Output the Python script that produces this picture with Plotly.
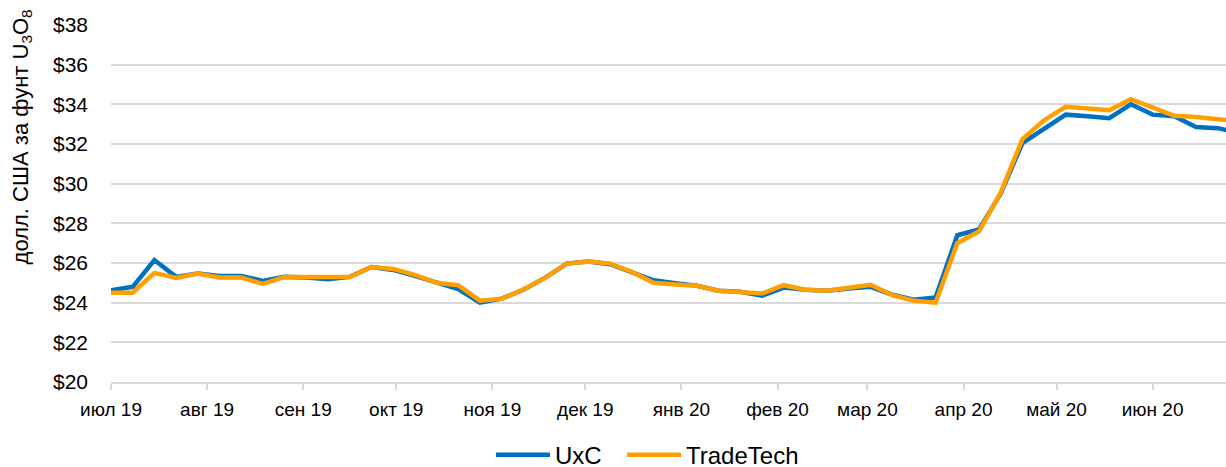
import pandas as pd
import plotly.graph_objects as go

start_date = "2019-07-01"
n_weeks = 53
dates = pd.date_range(start=start_date, periods=n_weeks, freq="7D")

uxc = [24.63, 24.80, 26.15, 25.30, 25.47, 25.35, 25.35, 25.10, 25.30, 25.27,
       25.18, 25.30, 25.80, 25.65, 25.35, 25.00, 24.68, 24.00, 24.20, 24.65,
       25.25, 25.97, 26.07, 25.94, 25.55, 25.13, 24.98, 24.85, 24.60, 24.55,
       24.35, 24.76, 24.65, 24.60, 24.72, 24.80, 24.40, 24.15, 24.26, 27.40,
       27.69, 29.50, 32.05, 32.78, 33.48, 33.40, 33.30, 34.00, 33.48, 33.40,
       32.86, 32.80, 32.55]
tradetech = [24.50, 24.50, 25.50, 25.25, 25.47, 25.27, 25.27, 24.95, 25.30, 25.30,
             25.33, 25.30, 25.80, 25.70, 25.40, 25.00, 24.88, 24.10, 24.20, 24.66,
             25.25, 25.97, 26.07, 25.97, 25.55, 25.00, 24.92, 24.85, 24.60, 24.55,
             24.46, 24.88, 24.65, 24.60, 24.75, 24.90, 24.38, 24.10, 24.00, 27.00,
             27.60, 29.55, 32.25, 33.20, 33.88, 33.80, 33.70, 34.26, 33.84, 33.42,
             33.36, 33.26, 33.15]

month_ticks = ["2019-07-01", "2019-08-01", "2019-09-01", "2019-10-01", "2019-11-01",
               "2019-12-01", "2020-01-01", "2020-02-01", "2020-03-01", "2020-04-01",
               "2020-05-01", "2020-06-01"]
month_labels = ["июл 19", "авг 19", "сен 19", "окт 19", "ноя 19", "дек 19",
                "янв 20", "фев 20", "мар 20", "апр 20", "май 20", "июн 20"]
y_ticks = [20, 22, 24, 26, 28, 30, 32, 34, 36, 38]
y_labels = ["$" + str(v) for v in y_ticks]

FONT = "Liberation Sans, Arial, sans-serif"
GRID = "#d9d9d9"

fig = go.Figure()
fig.add_trace(go.Scatter(x=dates, y=uxc, name="UxC", mode="lines", legend="legend",
                         line=dict(color="#0070C0", width=4.5)))
fig.add_trace(go.Scatter(x=dates, y=tradetech, name="TradeTech", mode="lines",
                         legend="legend2",
                         line=dict(color="#FFA000", width=4.5)))

legend_common = dict(orientation="h", xanchor="left", y=-0.205, yanchor="middle",
                     font=dict(size=24, color="#000000"), itemwidth=54,
                     bgcolor="rgba(0,0,0,0)")

fig.update_layout(
    width=1226, height=467,
    margin=dict(l=111, r=0, t=25, b=85, pad=0, autoexpand=False),
    paper_bgcolor="white", plot_bgcolor="white",
    font=dict(family=FONT, size=19, color="#000000"),
    showlegend=True,
    legend=dict(x=0.3408, **legend_common),
    legend2=dict(x=0.4583, **legend_common),
    annotations=[dict(text="долл. США за фунт U<sub>3</sub>O<sub>8</sub>",
                      xref="paper", yref="paper", x=0, y=0.685, xshift=-89,
                      textangle=-90, showarrow=False,
                      font=dict(size=22, color="#000000"),
                      xanchor="center", yanchor="middle")],
)
fig.update_xaxes(
    type="date", range=["2019-07-01", "2020-06-24 16:00"],
    tickvals=month_ticks, ticktext=month_labels,
    showgrid=False, showline=True, linecolor=GRID, linewidth=1.5,
    ticks="outside", ticklen=6, tickcolor=GRID, tickwidth=1.5,
    tickfont=dict(size=19), zeroline=False, automargin=False,
    ticklabelstandoff=3,
)
fig.update_yaxes(
    range=[20, 38], tickvals=y_ticks, ticktext=y_labels,
    showgrid=True, gridcolor=GRID, gridwidth=1.5,
    showline=False, zeroline=False, ticks="",
    ticklabelstandoff=22, tickfont=dict(size=21), automargin=False,
)

fig.write_html(
    "out.html",
    config={"displayModeBar": False},
    post_script="document.body.style.margin='0';document.body.style.overflow='hidden';",
)
